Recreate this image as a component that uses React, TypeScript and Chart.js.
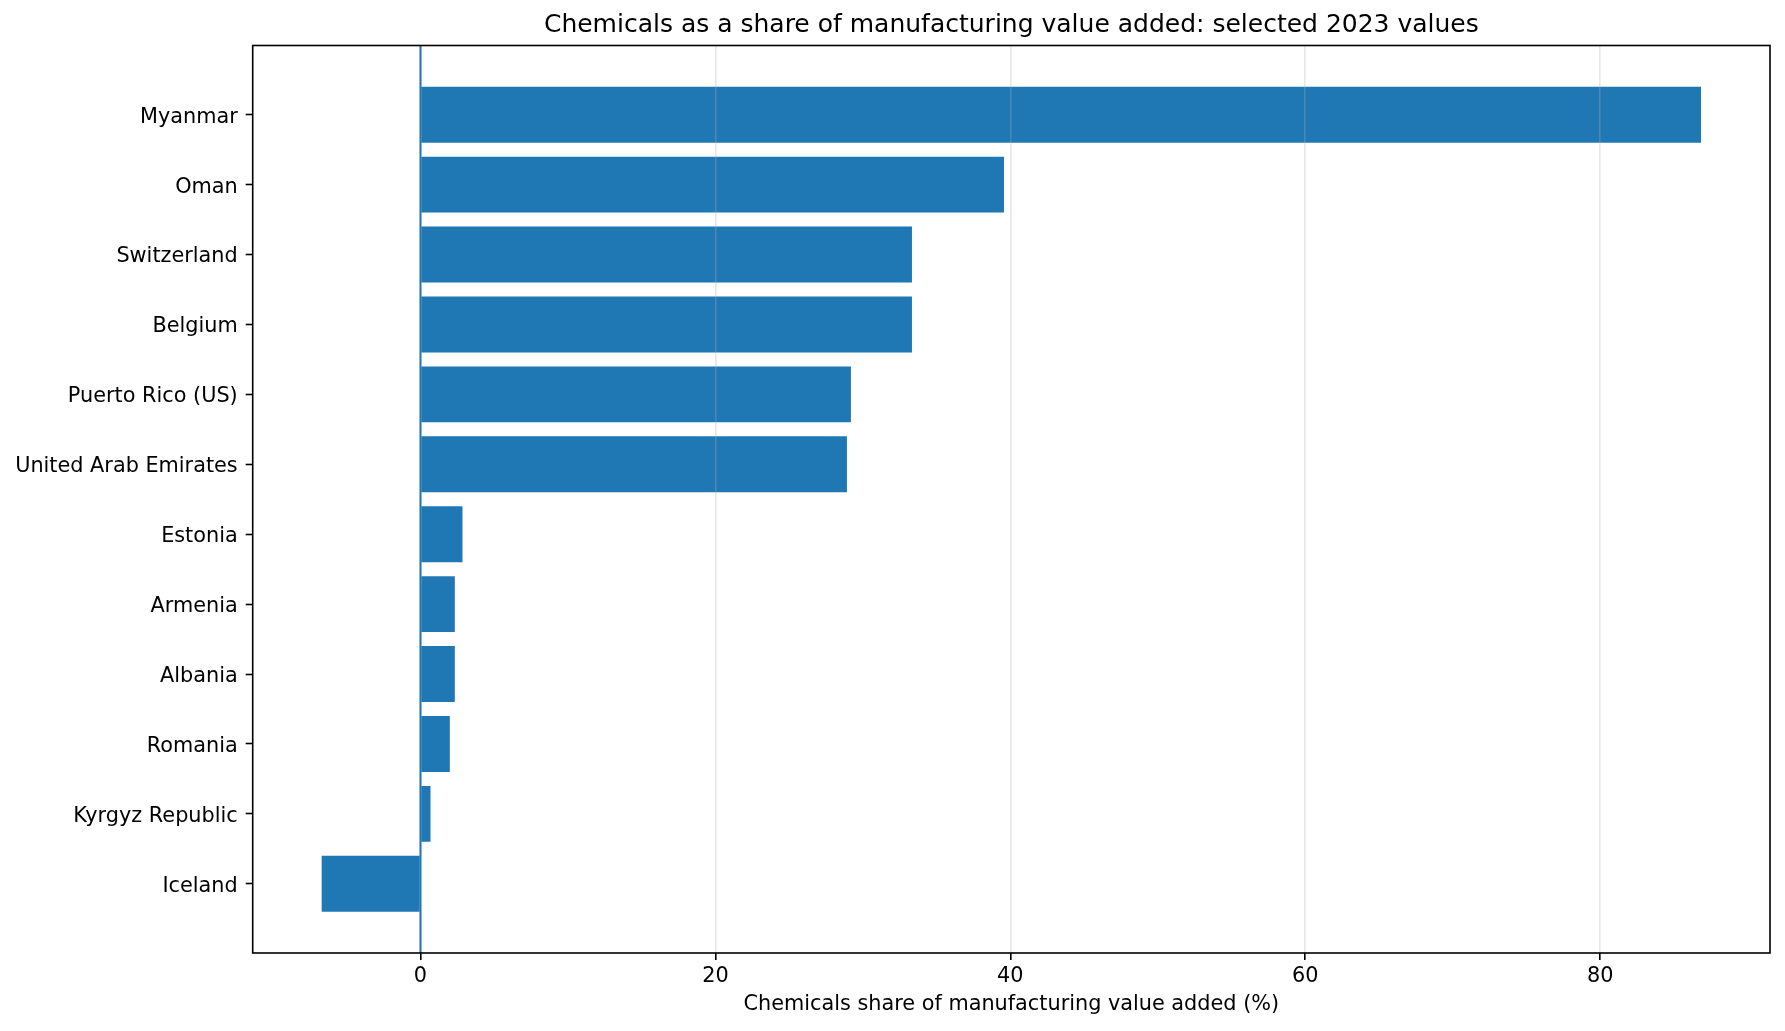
import React, { useEffect, useRef } from 'react';
import { Chart, registerables } from 'chart.js';

Chart.register(...registerables);

const countries = [
  'Myanmar',
  'Oman',
  'Switzerland',
  'Belgium',
  'Puerto Rico (US)',
  'United Arab Emirates',
  'Estonia',
  'Armenia',
  'Albania',
  'Romania',
  'Kyrgyz Republic',
  'Iceland',
];
const shares = [86.84, 39.57, 33.33, 33.33, 29.19, 28.92, 2.85, 2.33, 2.33, 1.99, 0.68, -6.7];
const xTicks = [0, 20, 40, 60, 80];

const chartTitle = 'Chemicals as a share of manufacturing value added: selected 2023 values';
const xTitle = 'Chemicals share of manufacturing value added (%)';

// matplotlib-like 5% margins around the data
const lo = Math.min(0, ...shares);
const hi = Math.max(0, ...shares);
const xMin = lo - (hi - lo) * 0.05;
const xMax = hi + (hi - lo) * 0.05;
const yPad = (countries.length - 1 + 0.8) * 0.05 + 0.4;

const framePlugin = {
  id: 'frame',
  afterDraw(chart: any) {
    const { ctx, chartArea, scales } = chart;
    const { left, top, right, bottom } = chartArea;
    const zx = scales.x.getPixelForValue(0);
    ctx.save();
    // zero reference line
    ctx.strokeStyle = '#1f77b4';
    ctx.lineWidth = 2;
    ctx.beginPath();
    ctx.moveTo(zx, top);
    ctx.lineTo(zx, bottom);
    ctx.stroke();
    // axes box
    ctx.strokeStyle = '#000';
    ctx.lineWidth = 1.6;
    ctx.strokeRect(left, top, right - left, bottom - top);
    ctx.restore();
  },
};

const App: React.FC = () => {
  const chartRef = useRef<HTMLCanvasElement>(null);
  const chartInstance = useRef<Chart | null>(null);

  useEffect(() => {
    document.body.style.margin = '0';
    if (!chartRef.current) return;
    if (chartInstance.current) chartInstance.current.destroy();

    Chart.defaults.font.family = '"DejaVu Sans", sans-serif';
    Chart.defaults.color = '#000';

    chartInstance.current = new Chart(chartRef.current, {
      type: 'bar',
      data: {
        datasets: [
          {
            label: 'Share',
            data: shares.map((v, i) => ({ x: v, y: i })),
            backgroundColor: '#1f77b4',
            borderWidth: 0,
            barPercentage: 0.8,
            categoryPercentage: 1,
          },
        ],
      },
      options: {
        indexAxis: 'y',
        responsive: false,
        devicePixelRatio: 1,
        animation: false,
        layout: { padding: { left: 0, right: 15, top: 0, bottom: 0 } },
        scales: {
          x: {
            type: 'linear',
            min: xMin,
            max: xMax,
            afterBuildTicks: (scale: any) => {
              scale.ticks = xTicks.map((v) => ({ value: v }));
            },
            afterFit: (scale: any) => {
              scale.height = 78;
            },
            border: { display: false },
            grid: {
              color: 'rgba(176,176,176,0.3)',
              lineWidth: 1.6,
              tickColor: '#000',
              tickLength: 7,
              tickWidth: 1.6,
              z: 1,
            },
            ticks: {
              padding: 4.5,
              font: { size: 20.8 },
              color: '#000',
            },
            title: {
              display: true,
              text: xTitle,
              font: { size: 20.8 },
              color: '#000',
              padding: { top: 0, bottom: 13.5 },
            },
          },
          y: {
            type: 'linear',
            reverse: true,
            offset: false,
            min: -yPad,
            max: countries.length - 1 + yPad,
            afterBuildTicks: (scale: any) => {
              scale.ticks = countries.map((_, i) => ({ value: i }));
            },
            afterFit: (scale: any) => {
              scale.width = 252.7;
            },
            border: { display: false },
            grid: {
              offset: false,
              drawOnChartArea: false,
              tickColor: '#000',
              tickLength: 7,
              tickWidth: 1.6,
            },
            ticks: {
              autoSkip: false,
              padding: 8,
              labelOffset: 2.5,
              font: { size: 20.8 },
              color: '#000',
              callback: (v: any) => countries[v as number],
            },
          },
        },
        plugins: {
          legend: { display: false },
          tooltip: { enabled: false },
          title: {
            display: true,
            text: chartTitle,
            fullSize: false,
            font: { size: 25, weight: 'normal' },
            color: '#000',
            padding: { top: 10.5, bottom: 5 },
          },
        },
      },
      plugins: [framePlugin],
    } as any);

    return () => {
      if (chartInstance.current) {
        chartInstance.current.destroy();
        chartInstance.current = null;
      }
    };
  }, []);

  return (
    <div style={{ width: 1785, height: 1031 }}>
      <canvas ref={chartRef} width={1785} height={1031} style={{ display: 'block' }} />
    </div>
  );
};

export default App;
